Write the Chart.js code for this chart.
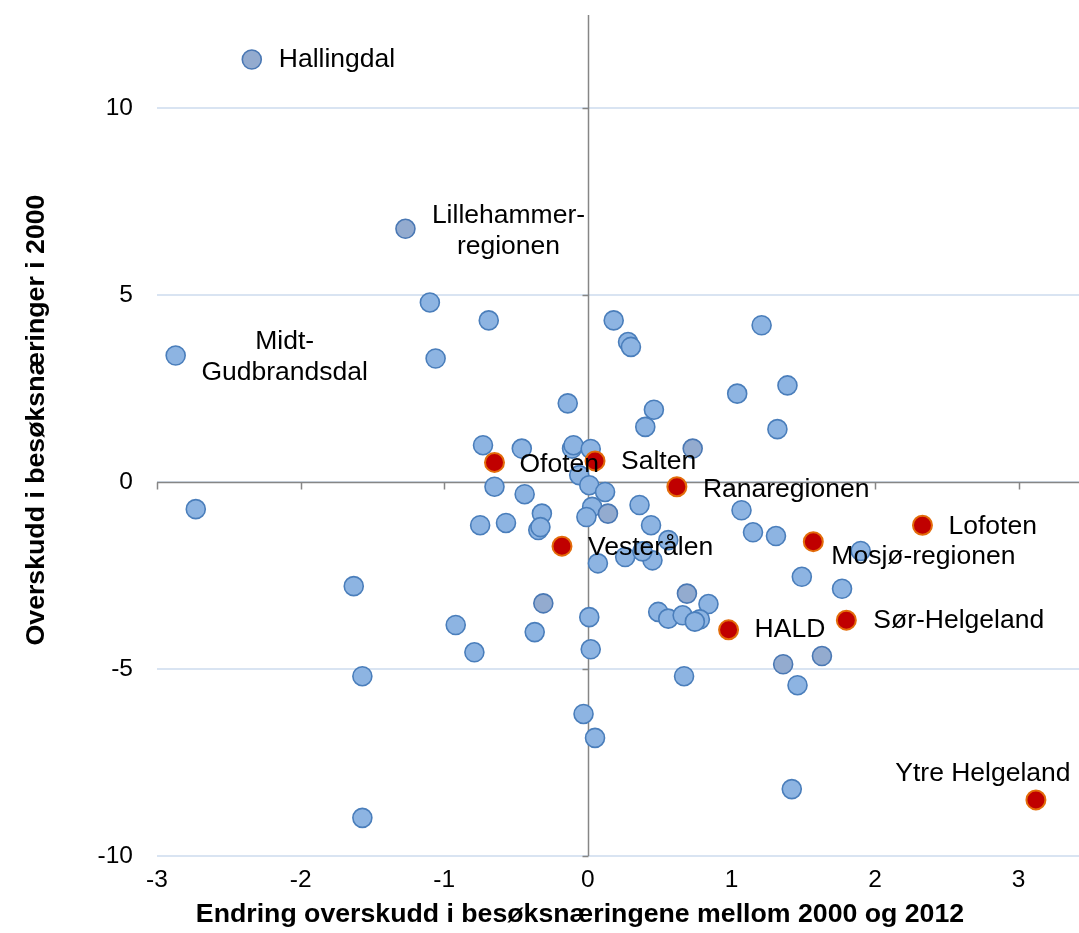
<!DOCTYPE html>
<html>
<head>
<meta charset="utf-8">
<script src="https://cdn.jsdelivr.net/npm/chart.js@4/dist/chart.umd.min.js"></script>
<style>
  html, body { margin: 0; padding: 0; background: #fff; }
  #chart { display: block; }
</style>
</head>
<body>
<canvas id="chart" width="1079" height="933"></canvas>
<script>
// Data ------------------------------------------------------------------------------------

// named regions (red)
var redNames = ['Ofoten', 'Salten', 'Ranaregionen', 'Vesterålen', 'Lofoten',
                'Mosjø-regionen', 'HALD', 'Sør-Helgeland', 'Ytre Helgeland'];
var redX = [-0.65, 0.05, 0.62, -0.18, 2.33, 1.57, 0.98, 1.80, 3.12];
var redY = [0.53, 0.57, -0.12, -1.71, -1.15, -1.59, -3.95, -3.69, -8.50];

// other regions, muted tone
var greyNames = ['Hallingdal', 'Lillehammer-\nregionen', '', '', '', '', '', ''];
var greyX = [-2.34, -1.27, 0.73, 0.14, 0.69, 1.63, 1.36, -0.31];
var greyY = [11.31, 6.78, 0.90, -0.84, -2.98, -4.65, -4.87, -3.24];

// other regions
var blueNames = ['Midt-\nGudbrandsdal'];
var blueX = [-2.87, -1.10, -0.69, -1.06, 0.18, 0.28, 0.30, 1.21, 1.04, 1.39,
             -0.14, 0.46, 0.40, 1.32, -0.73, -0.46, -0.11, -0.10, 0.02, -0.06,
             0.01, 0.12, -0.65, -0.44, -2.73, -0.32, -0.345, -0.33, -0.57, -0.75,
             0.03, -0.01, 0.36, 0.44, 0.56, 0.07, 0.26, 0.45, 0.38, 1.07,
             1.15, 1.31, 1.90, 1.49, 1.77, 0.84, 0.49, 0.56, 0.66, 0.78,
             0.745, 0.67, 1.46, 1.42, -1.63, -1.57, -1.57, -0.92, -0.79, -0.37,
             0.01, 0.02, -0.03, 0.05];
var blueY = [3.39, 4.81, 4.33, 3.31, 4.33, 3.75, 3.62, 4.20, 2.37, 2.59,
             2.11, 1.94, 1.48, 1.42, 0.99, 0.90, 0.90, 0.99, 0.89, 0.19,
             -0.08, -0.26, -0.12, -0.32, -0.72, -0.84, -1.28, -1.20, -1.09, -1.15,
             -0.66, -0.93, -0.61, -1.15, -1.55, -2.17, -2.00, -2.09, -1.85, -0.75,
             -1.34, -1.44, -1.84, -2.53, -2.85, -3.26, -3.47, -3.65, -3.56, -3.67,
             -3.73, -5.19, -5.43, -8.21, -2.78, -5.19, -8.98, -3.82, -4.55, -4.01,
             -3.61, -4.47, -6.20, -6.84];

var xTitle = 'Endring overskudd i besøksnæringene mellom 2000 og 2012';
var yTitle = 'Overskudd i besøksnæringer i 2000';

// Constants -------------------------------------------------------------------------------

var FONT = '"Liberation Sans", Arial, sans-serif';
var AXIS_COLOR = '#868686';
var GRID_COLOR = '#d9e4f2';
var POINT_RADIUS = 9.5;

// where each label sits relative to its point (pixels)
var LABEL_POS = {
    'Hallingdal': { dx: 27, dy: 0, align: 'left' },
    'Lillehammer-\nregionen': { dx: 103, dy: -13, align: 'center' },
    'Midt-\nGudbrandsdal': { dx: 109, dy: -14, align: 'center' },
    'Ofoten': { dx: 25, dy: 2, align: 'left' },
    'Salten': { dx: 26, dy: 1, align: 'left' },
    'Ranaregionen': { dx: 26, dy: 3, align: 'left' },
    'Vesterålen': { dx: 26, dy: 2, align: 'left' },
    'Lofoten': { dx: 26, dy: 1, align: 'left' },
    'Mosjø-regionen': { dx: 18, dy: 15, align: 'left' },
    'HALD': { dx: 26, dy: 0, align: 'left' },
    'Sør-Helgeland': { dx: 27, dy: 1, align: 'left' },
    'Ytre Helgeland': { dx: -53, dy: -26, align: 'center' }
};

// Helpers ---------------------------------------------------------------------------------

function toPoints(xs, ys) {
    var pts = [];
    for (var i = 0; i < xs.length; i++) {
        pts.push({ x: xs[i], y: ys[i] });
    }
    return pts;
}

// axis lines crossing at zero, drawn under the markers
var crossAxes = {
    id: 'crossAxes',
    beforeDatasetsDraw: function (chart) {
        var ctx = chart.ctx;
        var area = chart.chartArea;
        var xs = chart.scales.x;
        var ys = chart.scales.y;
        var x0 = Math.round(xs.getPixelForValue(0)) + 0.5;
        var y0 = Math.round(ys.getPixelForValue(0)) + 0.5;
        ctx.save();
        ctx.strokeStyle = AXIS_COLOR;
        ctx.lineWidth = 1.5;
        ctx.beginPath();
        ctx.moveTo(area.left, y0);
        ctx.lineTo(area.right, y0);
        ctx.moveTo(x0, area.top);
        ctx.lineTo(x0, area.bottom);
        xs.ticks.forEach(function (t) {
            var px = Math.round(xs.getPixelForValue(t.value)) + 0.5;
            ctx.moveTo(px, y0);
            ctx.lineTo(px, y0 + 7);
        });
        ys.ticks.forEach(function (t) {
            var py = Math.round(ys.getPixelForValue(t.value)) + 0.5;
            ctx.moveTo(x0 - 6, py);
            ctx.lineTo(x0, py);
        });
        ctx.stroke();
        ctx.restore();
    }
};

// point names and axis titles
var pointLabels = {
    id: 'pointLabels',
    afterDatasetsDraw: function (chart) {
        var ctx = chart.ctx;
        ctx.save();
        ctx.fillStyle = '#000';
        ctx.textBaseline = 'middle';
        ctx.font = '26.5px ' + FONT;
        chart.data.datasets.forEach(function (ds, di) {
            var meta = chart.getDatasetMeta(di);
            (ds.names || []).forEach(function (name, i) {
                var pos = LABEL_POS[name];
                if (!name || !pos) return;
                var el = meta.data[i];
                ctx.textAlign = pos.align;
                name.split('\n').forEach(function (line, li) {
                    ctx.fillText(line, el.x + pos.dx, el.y + pos.dy + li * 31);
                });
            });
        });

        ctx.font = 'bold 26.7px ' + FONT;
        ctx.textAlign = 'center';
        ctx.fillText(xTitle, 580, 915);
        ctx.translate(37, 420);
        ctx.rotate(-Math.PI / 2);
        ctx.fillText(yTitle, 0, 0);
        ctx.restore();
    }
};

// Chart -----------------------------------------------------------------------------------

var context = document.getElementById('chart').getContext('2d');

var chart = new Chart(context, {
    type: 'scatter',
    data: {
        datasets: [{
            names: redNames,
            data: toPoints(redX, redY),
            backgroundColor: '#c00000',
            borderColor: '#e36c0a',
            borderWidth: 2,
            pointRadius: POINT_RADIUS
        }, {
            names: greyNames,
            data: toPoints(greyX, greyY),
            backgroundColor: '#93abcf',
            borderColor: '#4a78b4',
            borderWidth: 1.6,
            pointRadius: POINT_RADIUS
        }, {
            names: blueNames,
            data: toPoints(blueX, blueY),
            backgroundColor: '#8db4e2',
            borderColor: '#4a7ebb',
            borderWidth: 1.6,
            pointRadius: POINT_RADIUS
        }]
    },
    options: {
        responsive: false,
        animation: false,
        events: [],
        layout: { autoPadding: false, padding: { top: 15, right: 0, bottom: 0, left: 0 } },
        plugins: {
            legend: { display: false },
            tooltip: { enabled: false }
        },
        scales: {
            x: {
                type: 'linear',
                position: 'bottom',
                min: -3,
                max: 3.42,
                afterFit: function (scale) { scale.height = 77; },
                grid: { display: false, drawTicks: false },
                border: { display: false },
                ticks: {
                    stepSize: 1,
                    includeBounds: false,
                    padding: 10,
                    color: '#000',
                    font: { family: FONT, size: 24.5 }
                }
            },
            y: {
                type: 'linear',
                min: -10,
                max: 12.5,
                afterFit: function (scale) {
                    scale.width = 157;
                    scale.paddingTop = 0;
                    scale.paddingBottom = 0;
                },
                grid: { color: GRID_COLOR, lineWidth: 2, drawTicks: false },
                border: { display: false },
                ticks: {
                    stepSize: 5,
                    includeBounds: false,
                    padding: 24,
                    color: '#000',
                    font: { family: FONT, size: 24.5 }
                }
            }
        }
    },
    plugins: [crossAxes, pointLabels]
});
</script>
</body>
</html>
